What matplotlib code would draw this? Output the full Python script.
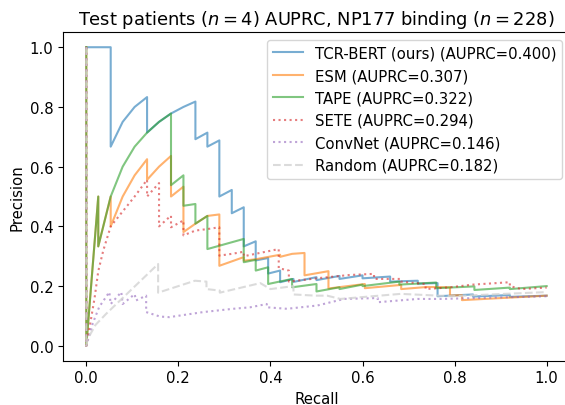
import matplotlib
matplotlib.use("Agg")
import matplotlib.pyplot as plt

# precision-recall vertices (recall, precision)
bert_recall = [0, 0.053, 0.053, 0.079, 0.105, 0.132, 0.132, 0.158, 0.184, 0.211, 0.237, 0.237,
               0.263, 0.263, 0.289, 0.289, 0.316, 0.316, 0.342, 0.342, 0.368, 0.368, 0.395, 0.395,
               0.421, 0.421, 0.45, 0.45, 0.50, 0.50, 0.55, 0.55, 0.60, 0.60, 0.66, 0.66, 0.72, 0.72,
               0.763, 0.763, 0.84, 0.84, 0.92, 0.92, 1.0]
bert_precision = [1.0, 1.0, 0.667, 0.75, 0.8, 0.833, 0.714, 0.75, 0.778, 0.8, 0.818, 0.692,
                  0.714, 0.667, 0.688, 0.5, 0.522, 0.444, 0.464, 0.333, 0.35, 0.286, 0.294, 0.242,
                  0.252, 0.213, 0.224, 0.214, 0.23, 0.22, 0.234, 0.224, 0.236, 0.226, 0.232, 0.215,
                  0.218, 0.208, 0.21, 0.166, 0.172, 0.165, 0.17, 0.164, 0.168]

esm_recall = [0, 0, 0.026, 0.026, 0.053, 0.053, 0.079, 0.105, 0.132, 0.132, 0.158, 0.184, 0.184,
              0.211, 0.211, 0.237, 0.263, 0.289, 0.289, 0.342, 0.342, 0.368, 0.421, 0.421, 0.447,
              0.474, 0.474, 0.526, 0.526, 0.605, 0.605, 0.684, 0.684, 0.74, 0.79, 0.79, 0.816,
              0.816, 1.0]
esm_precision = [1.0, 0, 0.5, 0.333, 0.5, 0.4, 0.5, 0.571, 0.625, 0.556, 0.6, 0.636, 0.5,
                 0.533, 0.381, 0.409, 0.435, 0.44, 0.268, 0.297, 0.285, 0.29, 0.305, 0.298, 0.308,
                 0.311, 0.236, 0.25, 0.192, 0.207, 0.193, 0.204, 0.19, 0.197, 0.196, 0.168, 0.17,
                 0.153, 0.168]

tape_recall = [0, 0, 0.026, 0.026, 0.053, 0.079, 0.105, 0.132, 0.158, 0.184, 0.184, 0.211, 0.211,
               0.237, 0.237, 0.263, 0.263, 0.342, 0.342, 0.368, 0.368, 0.395, 0.395, 0.447, 0.447,
               0.50, 0.50, 0.55, 0.55, 0.60, 0.60, 0.68, 0.68, 0.76, 0.76, 0.843, 0.843, 0.92,
               0.92, 1.0]
tape_precision = [1.0, 0, 0.5, 0.333, 0.5, 0.6, 0.667, 0.714, 0.75, 0.778, 0.538, 0.571, 0.469,
                  0.475, 0.409, 0.435, 0.324, 0.358, 0.28, 0.288, 0.252, 0.263, 0.207, 0.224, 0.196,
                  0.207, 0.182, 0.196, 0.19, 0.205, 0.2, 0.215, 0.205, 0.212, 0.193, 0.199, 0.187,
                  0.195, 0.19, 0.2]

sete_recall = [0, 0, 0.008, 0.018, 0.026, 0.037, 0.047, 0.053, 0.079, 0.105, 0.132, 0.132, 0.158,
               0.158, 0.184, 0.184, 0.211, 0.211, 0.237, 0.263, 0.289, 0.289, 0.316, 0.342, 0.342,
               0.418, 0.418, 0.44, 0.44, 0.50, 0.57, 0.625, 0.625, 0.683, 0.683, 0.737, 0.737,
               0.79, 0.84, 0.92, 0.92, 0.945, 1.0]
sete_precision = [1.0, 0, 0.07, 0.16, 0.25, 0.32, 0.37, 0.40, 0.45, 0.5, 0.556, 0.5, 0.545,
                  0.40, 0.436, 0.397, 0.42, 0.37, 0.386, 0.391, 0.397, 0.302, 0.308, 0.315, 0.30,
                  0.324, 0.26, 0.252, 0.215, 0.226, 0.237, 0.241, 0.224, 0.224, 0.215, 0.207, 0.19,
                  0.196, 0.205, 0.213, 0.2, 0.19, 0.195]

convnet_recall = [0, 0, 0.014, 0.028, 0.05, 0.053, 0.076, 0.079, 0.105, 0.108, 0.13, 0.13, 0.16,
                  0.18, 0.254, 0.319, 0.356, 0.392, 0.392, 0.436, 0.502, 0.56, 0.633, 0.633, 0.72,
                  0.771, 1.0]
convnet_precision = [1.0, 0, 0.075, 0.13, 0.18, 0.14, 0.18, 0.14, 0.173, 0.152, 0.168, 0.113, 0.098,
                     0.096, 0.113, 0.124, 0.129, 0.14, 0.129, 0.124, 0.135, 0.157, 0.16, 0.146, 0.157,
                     0.157, 0.166]

random_recall = [0, 0, 0.003, 0.02, 0.043, 0.156, 0.156, 0.236, 0.261, 0.261, 0.29, 0.29, 0.356,
                 0.378, 0.40, 0.45, 0.45, 0.498, 0.523, 0.552, 0.683, 0.793, 0.909, 1.0]
random_precision = [1.0, 0, 0.023, 0.07, 0.107, 0.274, 0.178, 0.218, 0.215, 0.19, 0.185, 0.178, 0.202,
                    0.21, 0.19, 0.2, 0.172, 0.168, 0.168, 0.157, 0.174, 0.166, 0.174, 0.18]

model_names = ["TCR-BERT (ours)", "ESM", "TAPE", "SETE", "ConvNet", "Random"]
auprc = [0.400, 0.307, 0.322, 0.294, 0.146, 0.182]

plt.rcParams["font.size"] = 10.7

fig = plt.figure(figsize=(5.65, 4.06), dpi=100)
# right spine sits just past the image edge in the reference
ax = fig.add_axes([0.112, 0.109, 0.8963, 0.809])

curves = [(bert_recall, bert_precision), (esm_recall, esm_precision),
          (tape_recall, tape_precision), (sete_recall, sete_precision),
          (convnet_recall, convnet_precision), (random_recall, random_precision)]
styles = [dict(color="tab:blue", linestyle="-", alpha=0.6),
          dict(color="tab:orange", linestyle="-", alpha=0.6),
          dict(color="tab:green", linestyle="-", alpha=0.6),
          dict(color="tab:red", linestyle=":", alpha=0.6),
          dict(color="tab:purple", linestyle=":", alpha=0.6),
          dict(color="lightgrey", linestyle="--", alpha=0.8)]

for (rec, prec), name, score, st in zip(curves, model_names, auprc, styles):
    ax.plot(rec, prec, label=f"{name} (AUPRC={score:.3f})", **st)

ax.set_xlabel("Recall")
ax.set_ylabel("Precision")
ax.legend(loc="upper right")
ax.set_title(r"Test patients ($n=4$) AUPRC, NP177 binding ($n=228$)")

fig.savefig("out.png", dpi=100)
